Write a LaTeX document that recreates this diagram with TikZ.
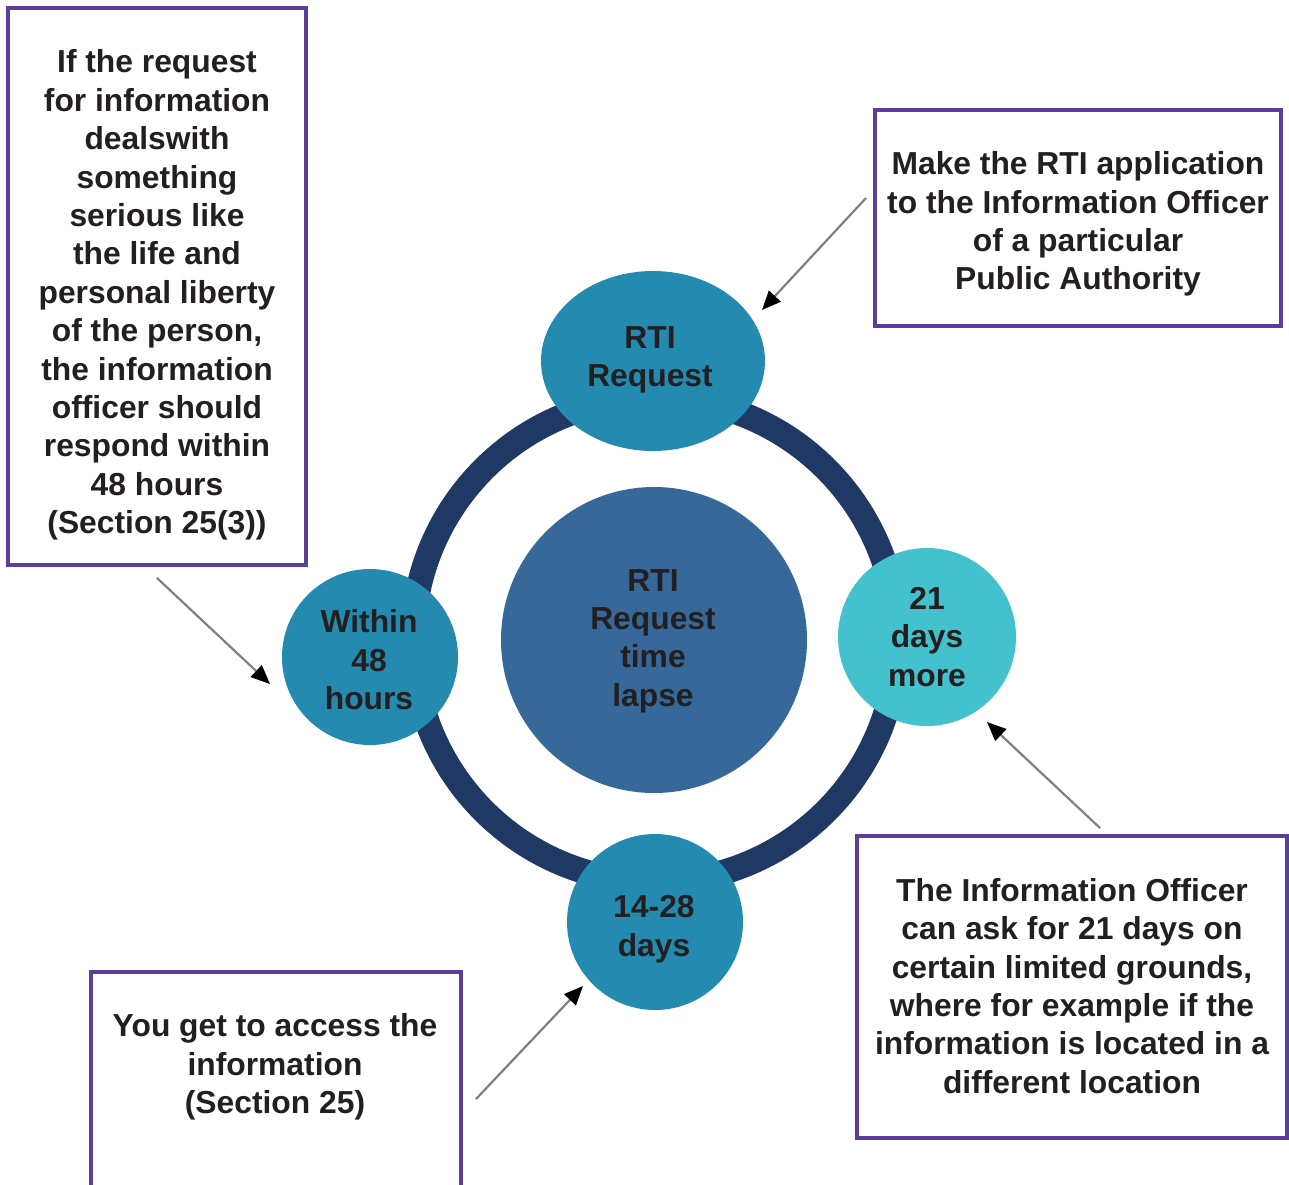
\documentclass[tikz,border=0pt]{standalone}
\usepackage{fontspec}
\setmainfont{Liberation Sans}
\usetikzlibrary{arrows.meta,shapes.geometric}

\definecolor{ringnavy}{HTML}{1F3864}
\definecolor{hubblue}{HTML}{366899}
\definecolor{stageteal}{HTML}{248AAF}
\definecolor{stagecyan}{HTML}{43C1CD}
\definecolor{framepurple}{HTML}{5E3D98}
\definecolor{inktext}{HTML}{231F20}
\definecolor{pointergray}{HTML}{808080}

\tikzset{
  every node/.style={text=inktext, font=\fontsize{31.8}{38.4}\selectfont\bfseries, align=center, inner sep=0pt},
  stage/.style={circle, fill=stageteal, minimum size=176pt},
  notebox/.style={draw=framepurple, line width=4pt, fill=white, rectangle},
  pointer/.style={draw=pointergray, line width=2.2pt,
    -{Triangle[length=19pt,width=16pt,color=black]}},
}

\begin{document}
\begin{tikzpicture}[x=1pt,y=-1pt]
  \clip (0,0) rectangle (1289,1184);
  \fill[white] (0,0) rectangle (1289,1184);

  % ring connecting the four stages
  \draw[ringnavy, line width=25pt] (655,640) circle[radius=242];

  % hub
  \node[circle, fill=hubblue, minimum size=306pt] (hub) at (654,640) {};
  \node at (653,641) {RTI\\Request\\time\\lapse};

  % stages on the ring
  \node[ellipse, fill=stageteal, minimum width=224pt, minimum height=180pt] (request) at (653,361) {};
  \node at (650,360) {RTI\\Request};
  \node[stage] (fortyeight) at (370,657) {};
  \node at (369,660) {Within\\48\\hours};
  \node[stage, fill=stagecyan, minimum size=178pt] (extra) at (927,637) {};
  \node at (927,637) {21\\days\\more};
  \node[stage] (access) at (655,922) {};
  \node at (654,929) {14-28\\days};

  % explanatory boxes
  \node[notebox, minimum width=298pt, minimum height=557pt] (urgent) at (157,286.5) {};
  \node at (157,295)
    {If the request\\for information\\dealswith\\something\\serious like\\the life and\\personal liberty\\of the person,\\the information\\officer should\\respond within\\48 hours\\(Section 25(3))};
  \node[notebox, minimum width=406pt, minimum height=216pt] (apply) at (1078,218) {};
  \node at (1078,224)
    {Make the RTI application\\to the Information Officer\\of a particular\\Public Authority};
  \node[notebox, minimum width=430pt, minimum height=302pt] (extend) at (1072,987) {};
  \node at (1072,986)
    {The Information Officer\\can ask for 21 days on\\certain limited grounds,\\where for example if the\\information is located in a\\different location};
  \node[notebox, minimum width=370pt, minimum height=260pt, anchor=north] (getinfo) at (276,970) {};
  \node at (275,1067) {You get to access the\\information\\(Section 25)};

  % pointers from the boxes to the stages
  \coordinate (applyA) at (866,198);
  \coordinate (applyB) at (762,310);
  \coordinate (urgentA) at (157,578);
  \coordinate (urgentB) at (270,684);
  \coordinate (getinfoA) at (476,1099);
  \coordinate (getinfoB) at (583,986);
  \coordinate (extendA) at (1100,828);
  \coordinate (extendB) at (987,722);
  \draw[pointer] (applyA) -- (applyB);
  \draw[pointer] (urgentA) -- (urgentB);
  \draw[pointer] (getinfoA) -- (getinfoB);
  \draw[pointer] (extendA) -- (extendB);
\end{tikzpicture}
\end{document}
